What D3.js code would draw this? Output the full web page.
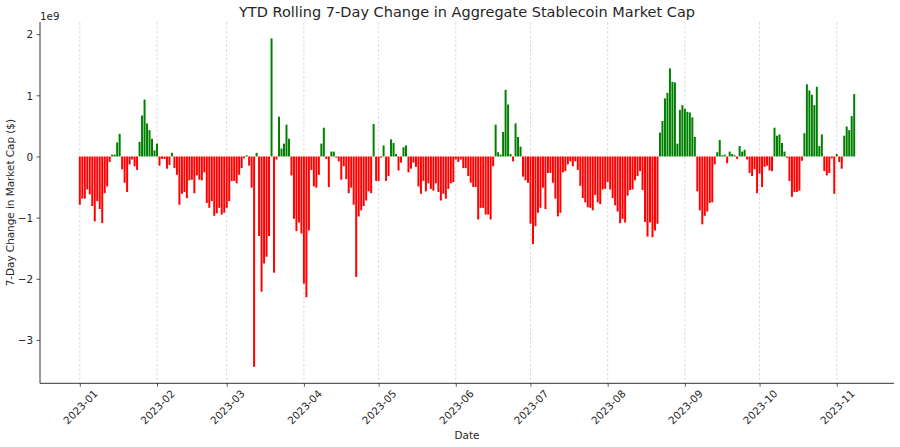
<!DOCTYPE html>
<html><head><meta charset="utf-8">
<script src="https://cdn.jsdelivr.net/npm/d3@7"></script>
<style>
body{margin:0;background:#fff}
svg{display:block}
text{font-family:"DejaVu Sans",sans-serif;fill:#262626}
</style>
</head><body>
<svg id="chart" width="900" height="447"></svg>
<script>
// ---- data (values in units of 1e9 USD) ----
const startDate = "2023-01-01";
const change1e9 = [
 -0.79,-0.69,-0.69,-0.54,-0.62,-0.81,-1.06,-0.73,-0.86,-1.09,
 -0.60,-0.49,-0.09,0.03,0.03,0.23,0.37,-0.21,-0.43,-0.58,
 -0.13,-0.05,-0.16,-0.22,0.24,0.67,0.93,0.54,0.43,0.29,
 0.10,0.21,-0.15,-0.04,-0.04,-0.20,-0.14,0.06,-0.19,-0.30,
 -0.79,-0.61,-0.58,-0.68,-0.39,-0.38,-0.60,-0.31,-0.38,-0.39,
 -0.26,-0.76,-0.84,-0.73,-0.97,-0.93,-0.84,-0.95,-0.92,-0.84,
 -0.73,-0.40,-0.40,-0.44,-0.30,-0.19,-0.03,0.02,-0.15,-0.51,
 -3.44,0.06,-1.30,-2.21,-1.75,-1.64,-1.30,1.93,-1.90,-0.05,
 0.65,0.13,0.21,0.52,0.29,-0.31,-1.02,-1.22,-1.08,-1.26,
 -2.08,-2.30,-1.21,-0.22,-0.49,-0.51,-0.30,0.21,0.47,-0.04,
 -0.50,0.08,0.08,-0.02,-0.08,-0.38,-0.16,-0.37,-0.60,-0.51,
 -0.79,-1.97,-0.98,-0.88,-0.81,-0.72,-0.57,-0.60,0.53,-0.40,
 -0.40,-0.02,0.18,-0.40,-0.32,0.28,0.22,0.04,-0.23,-0.10,
 0.15,0.18,-0.26,-0.20,-0.10,-0.17,-0.49,-0.61,-0.40,-0.57,
 -0.44,-0.53,-0.56,-0.44,-0.58,-0.72,-0.61,-0.69,-0.53,-0.44,
 -0.42,-0.05,-0.09,-0.05,-0.19,-0.19,-0.32,-0.43,-0.50,-0.50,
 -1.03,-0.84,-0.84,-0.95,-0.95,-1.03,-0.16,0.52,0.07,0.03,
 0.40,1.09,0.85,0.04,-0.08,0.54,0.32,0.16,-0.33,-0.39,
 -0.43,-1.10,-1.43,-1.14,-0.92,-0.84,-0.51,-0.86,-0.27,-0.27,
 -0.43,-0.69,-0.98,-0.92,-0.26,-0.24,-0.13,-0.08,-0.16,-0.08,
 -0.22,-0.48,-0.68,-0.75,-0.83,-0.84,-0.88,-0.63,-0.75,-0.78,
 -0.54,-0.53,-0.42,-0.54,-0.68,-0.80,-0.90,-1.09,-1.02,-1.08,
 -0.64,-0.55,-0.54,-0.39,-0.32,-0.24,-0.55,-1.07,-1.31,-1.08,
 -1.32,-1.21,-1.10,0.39,0.58,0.95,1.04,1.44,1.22,1.21,
 0.21,0.76,0.84,0.78,0.73,0.72,0.64,0.32,-0.57,-0.88,
 -1.11,-0.97,-0.90,-0.76,-0.75,-0.13,0.07,0.27,0.02,0.03,
 -0.11,0.08,0.04,0.02,-0.04,0.17,0.08,0.11,-0.05,-0.27,
 -0.32,-0.21,-0.60,-0.28,-0.50,-0.17,-0.15,-0.23,-0.24,0.47,
 0.34,0.36,0.22,0.08,-0.02,-0.40,-0.66,-0.58,-0.58,-0.56,
 -0.07,0.38,1.18,1.08,1.01,0.84,1.14,0.17,0.36,-0.24,
 -0.31,-0.27,-0.03,-0.61,0.04,-0.09,-0.20,0.34,0.49,0.43,
 0.66,1.02
];
const yTickValues = [-3, -2, -1, 0, 1, 2];
const titleText = "YTD Rolling 7-Day Change in Aggregate Stablecoin Market Cap";
const xLabelText = "Date";
const yLabelText = "7-Day Change in Market Cap ($)";
const offsetText = "1e9";

// ---- layout ----
const L = 40, R = 894, T = 22, B = 383.3;
const svg = d3.select("#chart");

const start = new Date(startDate + "T00:00:00Z");
const dates = change1e9.map((_, i) => d3.utcDay.offset(start, i));
const dayMs = 864e5;
const lo = +dates[0] - 0.4 * dayMs, hi = +dates[dates.length - 1] + 0.4 * dayMs;
const span = hi - lo;
const x = d3.scaleUtc().domain([new Date(lo - 0.05 * span), new Date(hi + 0.05 * span)]).range([L, R]);

const vmin = Math.min(0, d3.min(change1e9)), vmax = Math.max(0, d3.max(change1e9));
const vs = vmax - vmin;
const y = d3.scaleLinear().domain([vmin - 0.05 * vs, vmax + 0.05 * vs]).range([B, T]);

const months = d3.utcMonths(x.domain()[0], x.domain()[1]);

// grid
svg.append("g").selectAll("line").data(months).join("line")
  .attr("x1", d => x(d)).attr("x2", d => x(d))
  .attr("y1", T).attr("y2", B)
  .attr("stroke", "#b0b0b0").attr("stroke-opacity", 0.6)
  .attr("stroke-width", 0.8).attr("stroke-dasharray", "2.5,2");

// bars
const bw = x(new Date(+start + 0.8 * dayMs)) - x(start);
svg.append("g").selectAll("rect").data(change1e9).join("rect")
  .attr("x", (d, i) => x(dates[i]) - bw / 2)
  .attr("width", bw)
  .attr("y", d => Math.min(y(d), y(0)))
  .attr("height", d => Math.abs(y(d) - y(0)))
  .attr("fill", d => d >= 0 ? "green" : "red");

// x axis
const xAxis = svg.append("g").attr("transform", `translate(0,${B})`)
  .call(d3.axisBottom(x).tickValues(months).tickFormat(d3.utcFormat("%Y-%m")).tickSizeOuter(0).tickSize(3.5));
xAxis.select(".domain").remove();
xAxis.selectAll(".tick line").attr("stroke", "#333").attr("stroke-width", 0.8);
xAxis.selectAll(".tick text")
  .attr("y", 0).attr("dy", null)
  .attr("text-anchor", "middle").attr("dominant-baseline", "central")
  .attr("transform", "translate(0,23.5) rotate(-45)")
  .style("font-size", "10.4px").style("fill", "#262626");

// y axis
const yAxis = svg.append("g").attr("transform", `translate(${L},0)`)
  .call(d3.axisLeft(y).tickValues(yTickValues).tickFormat(d3.format("d")).tickSize(3.5).tickPadding(3.5).tickSizeOuter(0));
yAxis.select(".domain").remove();
yAxis.selectAll(".tick line").attr("stroke", "#333").attr("stroke-width", 0.8);
yAxis.selectAll(".tick text").style("font-size", "10.4px").style("fill", "#262626").attr("dy", "0.36em");

// spines
svg.append("line").attr("x1", L).attr("x2", L).attr("y1", T).attr("y2", B)
  .attr("stroke", "#333").attr("stroke-width", 1);
svg.append("line").attr("x1", L).attr("x2", R).attr("y1", B).attr("y2", B)
  .attr("stroke", "#333").attr("stroke-width", 1);

// texts
svg.append("text").attr("x", (L + R) / 2).attr("y", 17).attr("text-anchor", "middle")
  .style("font-size", "14.5px").text(titleText);
svg.append("text").attr("x", (L + R) / 2).attr("y", 439).attr("text-anchor", "middle")
  .style("font-size", "10.4px").text(xLabelText);
svg.append("text").attr("transform", `translate(14,${(T + B) / 2}) rotate(-90)`).attr("text-anchor", "middle")
  .style("font-size", "10.4px").text(yLabelText);
svg.append("text").attr("x", L).attr("y", 19.5).attr("text-anchor", "start")
  .style("font-size", "10.4px").text(offsetText);
</script>
</body></html>
